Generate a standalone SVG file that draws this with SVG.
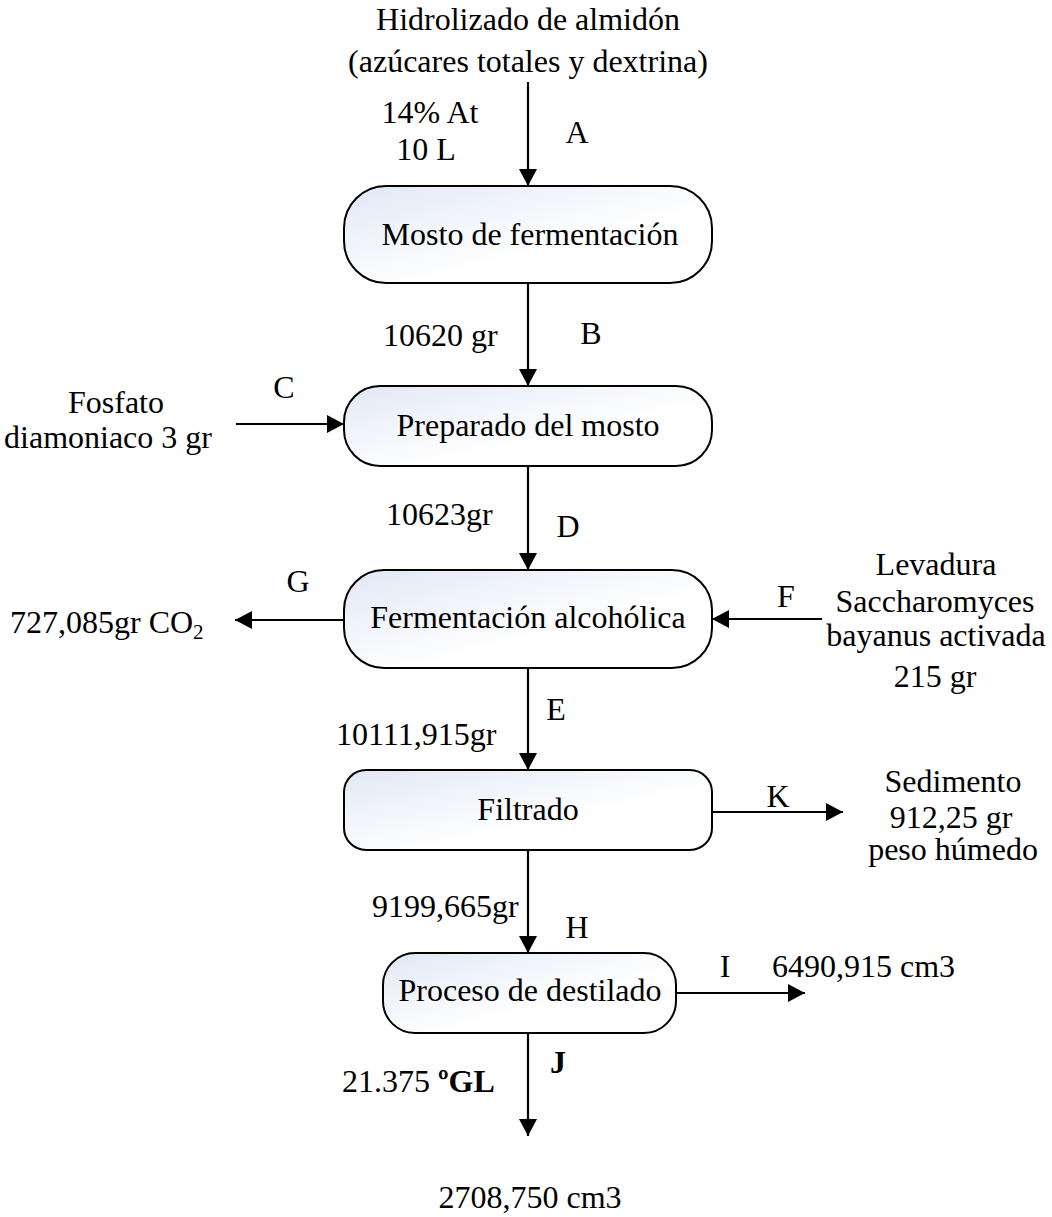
<svg xmlns="http://www.w3.org/2000/svg" width="1052" height="1217" viewBox="0 0 1052 1217">
<style>
text{font-family:"Liberation Serif","Times New Roman",serif;font-size:32px;fill:#000}
.m{text-anchor:middle}
.box{fill:url(#g);stroke:#000;stroke-width:2}
.ln{stroke:#000;stroke-width:2.2;fill:none;marker-end:url(#ah)}
</style>
<defs>
<linearGradient id="g" x1="0" y1="0" x2="1" y2="1">
<stop offset="0" stop-color="#e1e8f5"/>
<stop offset="0.6" stop-color="#ffffff"/>
</linearGradient>
<marker id="ah" markerWidth="18" markerHeight="18" refX="17" refY="9" orient="auto" markerUnits="userSpaceOnUse">
<path d="M0,0 L17,9 L0,18 Z" fill="#000"/>
</marker>
</defs>
<rect width="1052" height="1217" fill="#fff"/>
<g id="connectors">
<line class="ln" x1="528" y1="82" x2="528" y2="186"/>
<line class="ln" x1="528" y1="283" x2="528" y2="386"/>
<line class="ln" x1="236" y1="424" x2="344" y2="424"/>
<line class="ln" x1="528" y1="466" x2="528" y2="570"/>
<line class="ln" x1="344" y1="620" x2="235" y2="620"/>
<line class="ln" x1="822" y1="619" x2="712" y2="619"/>
<line class="ln" x1="528" y1="668" x2="528" y2="770"/>
<line class="ln" x1="712" y1="812" x2="843" y2="812"/>
<line class="ln" x1="528" y1="850" x2="528" y2="953"/>
<line class="ln" x1="676" y1="993" x2="805" y2="993"/>
<line class="ln" x1="528" y1="1033" x2="528" y2="1136"/>
</g>
<g id="n1"><rect class="box" x="344" y="186" width="368" height="97" rx="42"/><text class="m" x="530" y="245">Mosto de fermentación</text></g>
<g id="n2"><rect class="box" x="344" y="386" width="368" height="80" rx="36"/><text class="m" x="528" y="436">Preparado del mosto</text></g>
<g id="n3"><rect class="box" x="344" y="570" width="368" height="98" rx="40"/><text class="m" x="528" y="628">Fermentación alcohólica</text></g>
<g id="n4"><rect class="box" x="344" y="770" width="368" height="80" rx="22"/><text class="m" x="528" y="820">Filtrado</text></g>
<g id="n5"><rect class="box" x="383" y="953" width="293" height="80" rx="32"/><text class="m" x="530" y="1001">Proceso de destilado</text></g>
<g id="labels">
<text class="m" x="528" y="30">Hidrolizado de almidón</text>
<text class="m" x="528" y="72">(azúcares totales y dextrina)</text>
<text class="m" x="430" y="123">14% At</text>
<text class="m" x="426" y="160">10 L</text>
<text class="m" x="577" y="143">A</text>
<text x="383" y="346">10620 gr</text>
<text class="m" x="591" y="344">B</text>
<text class="m" x="284" y="398">C</text>
<text class="m" x="116" y="413">Fosfato</text>
<text class="m" x="108" y="448">diamoniaco 3 gr</text>
<text x="386" y="525">10623gr</text>
<text class="m" x="568" y="537">D</text>
<text class="m" x="298" y="592">G</text>
<text x="10" y="633">727,085gr CO<tspan font-size="21" dy="6">2</tspan></text>
<text class="m" x="786" y="607">F</text>
<text class="m" x="936" y="575">Levadura</text>
<text class="m" x="935" y="612">Saccharomyces</text>
<text class="m" x="936" y="646">bayanus activada</text>
<text class="m" x="935" y="687">215 gr</text>
<text class="m" x="556" y="720">E</text>
<text x="336" y="745">10111,915gr</text>
<text class="m" x="778" y="807">K</text>
<text class="m" x="953" y="792">Sedimento</text>
<text class="m" x="951" y="828">912,25 gr</text>
<text class="m" x="953" y="860">peso húmedo</text>
<text x="372" y="917">9199,665gr</text>
<text class="m" x="577" y="938">H</text>
<text class="m" x="725" y="977">I</text>
<text x="772" y="977">6490,915 cm3</text>
<text class="m" x="558" y="1073" font-weight="bold">J</text>
<text x="342" y="1092">21.375 <tspan font-weight="bold">ºGL</tspan></text>
<text class="m" x="530" y="1208">2708,750 cm3</text>
</g>
</svg>
